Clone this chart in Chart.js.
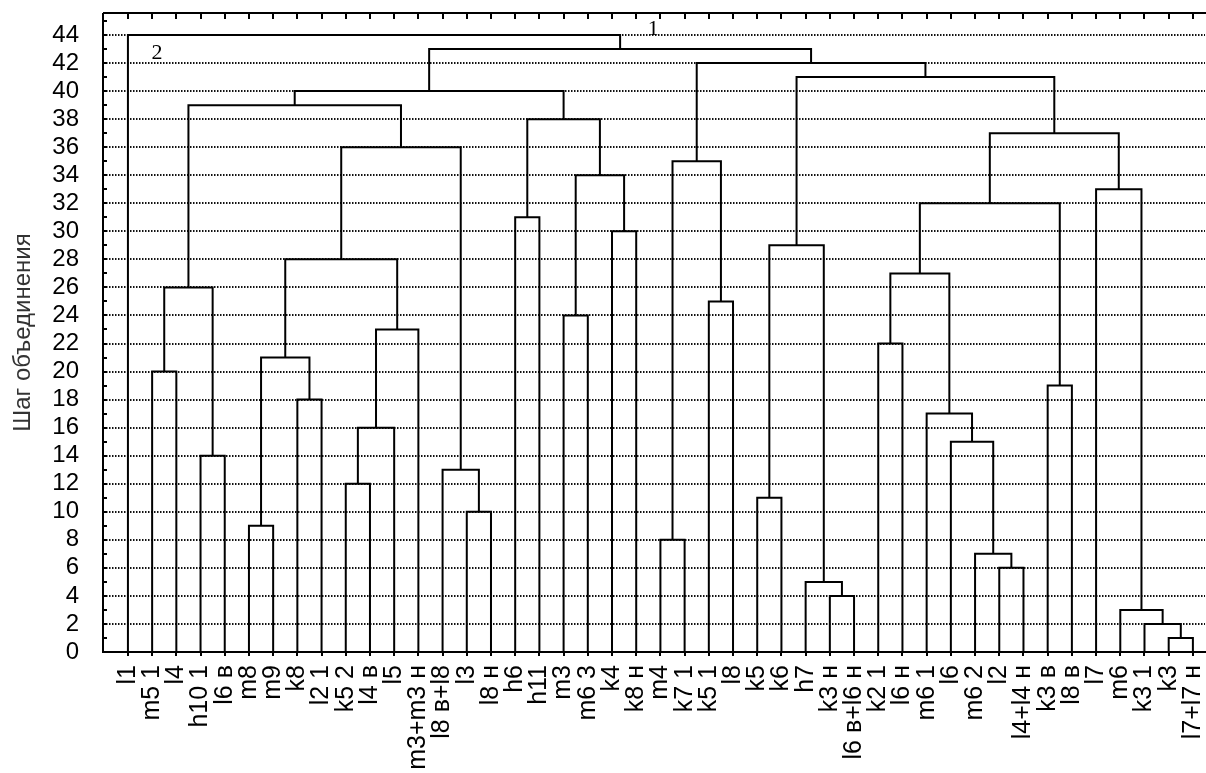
<!DOCTYPE html>
<html>
<head>
<meta charset="utf-8">
<script src="https://cdn.jsdelivr.net/npm/chart.js@4.4.0/dist/chart.umd.min.js"></script>
<style>
  html, body { margin: 0; padding: 0; background: #fff; }
  #wrap { width: 1206px; height: 773px; }
</style>
</head>
<body>
<div id="wrap"><canvas id="chart" width="1206" height="773"></canvas></div>
<script>
// leaves in dendrogram order
const leafLabels = ['l1', 'm5 1', 'l4', 'h10 1', 'l6 в', 'm8', 'm9', 'k8', 'l2 1', 'k5 2', 'l4 в', 'l5',
  'm3+m3 н', 'l8 в+l8', 'l3', 'l8 н', 'h6', 'h11', 'm3', 'm6 3', 'k4', 'k8 н', 'm4', 'k7 1', 'k5 1', 'l8',
  'k5', 'k6', 'h7', 'k3 н', 'l6 в+l6 н', 'k2 1', 'l6 н', 'm6 1', 'l6', 'm6 2', 'l2', 'l4+l4 н', 'k3 в',
  'l8 в', 'l7', 'm6', 'k3 1', 'k3', 'l7+l7 н'];

// joins, in order; an id >= 45 means the cluster made by join (id - 45)
const mergeA = [43, 42, 41, 29, 28, 36, 35, 22, 5, 14, 26, 9, 13, 3, 34, 56, 33, 7, 38, 1, 53, 31, 60, 18,
  24, 64, 66, 65, 55, 20, 16, 71, 40, 68, 52, 72, 76, 75, 70, 83, 73, 79, 84, 0];
const mergeB = [44, 45, 46, 30, 48, 37, 50, 23, 6, 15, 27, 10, 54, 4, 51, 11, 59, 8, 39, 2, 62, 32, 12, 19,
  25, 58, 61, 67, 49, 21, 17, 63, 47, 74, 69, 57, 77, 78, 80, 82, 81, 85, 86, 87];
const mergeStep = [1, 2, 3, 4, 5, 6, 7, 8, 9, 10, 11, 12, 13, 14, 15, 16, 17, 18, 19, 20, 21, 22, 23, 24,
  25, 26, 27, 28, 29, 30, 31, 32, 33, 34, 35, 36, 37, 38, 39, 40, 41, 42, 43, 44];

const yTicks = [0, 2, 4, 6, 8, 10, 12, 14, 16, 18, 20, 22, 24, 26, 28, 30, 32, 34, 36, 38, 40, 42, 44];

// cluster numbers written on the chart (data coordinates)
const notes = [
  { text: '1', x: 21.7, y: 44.4 },
  { text: '2', x: 1.2, y: 42.7 }
];

const FONT = "'Liberation Sans', Arial, sans-serif";

// node positions: leaves sit at their index, joins in the middle of their two parts
const nodeX = leafLabels.map((_, i) => i);
const nodeH = leafLabels.map(() => 0);
const datasets = [];
mergeStep.forEach((h, k) => {
  const a = mergeA[k], b = mergeB[k];
  datasets.push({
    data: [
      { x: nodeX[a], y: nodeH[a] },
      { x: nodeX[a], y: h },
      { x: nodeX[b], y: h },
      { x: nodeX[b], y: nodeH[b] }
    ],
    showLine: true,
    borderColor: '#000',
    borderWidth: 2,
    pointRadius: 0
  });
  nodeX.push((nodeX[a] + nodeX[b]) / 2);
  nodeH.push(h);
});

const framePlugin = {
  id: 'frame',
  beforeDatasetsDraw(chart) {
    const { ctx, chartArea: a, scales: { y } } = chart;
    ctx.save();
    ctx.strokeStyle = '#111';
    ctx.lineWidth = 2;
    ctx.setLineDash([1.5, 1.5]);
    yTicks.forEach(v => {
      const py = Math.round(y.getPixelForValue(v));
      ctx.beginPath();
      ctx.moveTo(a.left, py);
      ctx.lineTo(a.right, py);
      ctx.stroke();
    });
    ctx.restore();
  },
  afterDatasetsDraw(chart) {
    const { ctx, chartArea: a, scales: { x, y } } = chart;
    ctx.save();
    ctx.strokeStyle = '#000';
    ctx.lineWidth = 2;
    ctx.beginPath();
    ctx.moveTo(a.left, a.top); ctx.lineTo(a.right + 1, a.top);
    ctx.moveTo(a.left, a.top); ctx.lineTo(a.left, a.bottom);
    ctx.lineTo(a.right + 1, a.bottom);
    ctx.stroke();
    ctx.beginPath();
    leafLabels.forEach((_, i) => {
      const px = Math.round(x.getPixelForValue(i));
      ctx.moveTo(px, a.top); ctx.lineTo(px, a.top + 6);
      ctx.moveTo(px, a.bottom); ctx.lineTo(px, a.bottom + 4);
    });
    for (let v = 1; v <= 45; v++) {
      const py = Math.round(y.getPixelForValue(v));
      ctx.moveTo(a.left, py); ctx.lineTo(a.left + 4, py);
    }
    ctx.stroke();
    ctx.fillStyle = '#000';
    ctx.font = "22px 'Liberation Serif', serif";
    ctx.textAlign = 'center';
    ctx.textBaseline = 'middle';
    notes.forEach(n => ctx.fillText(n.text, x.getPixelForValue(n.x), y.getPixelForValue(n.y)));
    ctx.restore();
  }
};

new Chart(document.getElementById('chart'), {
  type: 'scatter',
  data: { datasets },
  options: {
    responsive: false,
    animation: false,
    layout: { padding: { top: 13, right: 1, left: 0, bottom: 0 } },
    plugins: { legend: { display: false }, tooltip: { enabled: false } },
    scales: {
      x: {
        type: 'linear',
        min: -1.03,
        max: 44.5,
        grid: { display: false },
        border: { display: false },
        afterBuildTicks: s => { s.ticks = leafLabels.map((_, i) => ({ value: i })); },
        afterFit: s => { s.height = 121; s.paddingLeft = 0; s.paddingRight = 0; },
        ticks: {
          autoSkip: false,
          minRotation: 90,
          maxRotation: 90,
          padding: 5,
          color: '#000',
          font: { family: FONT, size: 25 },
          callback: v => leafLabels[v]
        }
      },
      y: {
        min: 0,
        max: 45.57,
        grid: { display: false },
        border: { display: false },
        afterBuildTicks: s => { s.ticks = yTicks.map(v => ({ value: v })); },
        afterFit: s => { s.width = 103; s.paddingTop = 0; s.paddingBottom = 0; },
        ticks: {
          autoSkip: false,
          padding: 16,
          color: '#000',
          font: { family: FONT, size: 24, lineHeight: 1 }
        },
        title: {
          display: true,
          text: 'Шаг объединения',
          color: '#333',
          font: { family: FONT, size: 24 },
          padding: { top: 9, bottom: 0 }
        }
      }
    }
  },
  plugins: [framePlugin]
});
</script>
</body>
</html>
